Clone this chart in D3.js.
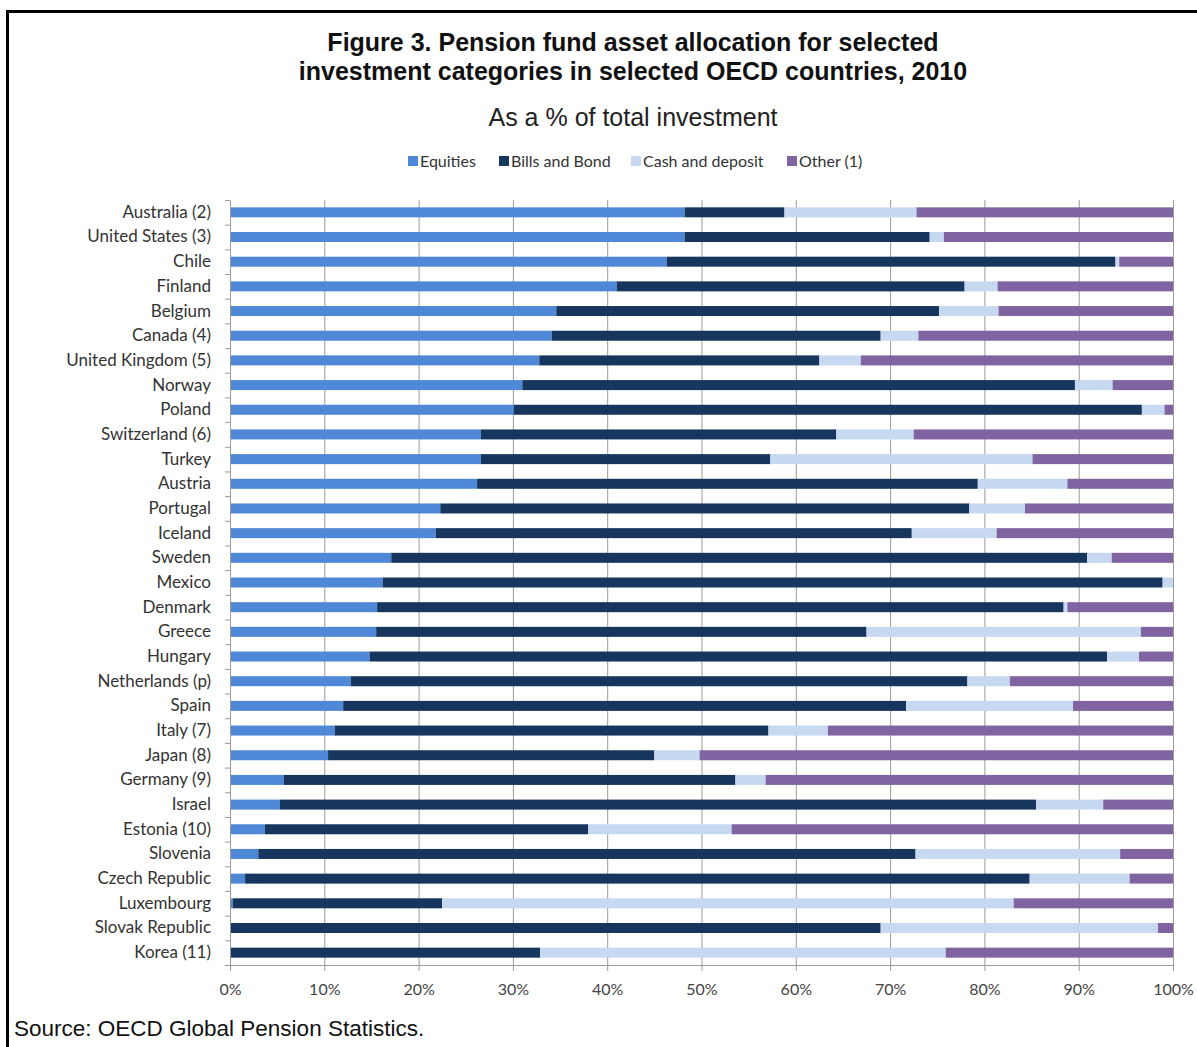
<!DOCTYPE html>
<html>
<head>
<meta charset="utf-8">
<script src="https://cdn.jsdelivr.net/npm/d3@7"></script>
<style>
  html, body { margin: 0; padding: 0; background: #fff; }
  svg { display: block; }
</style>
</head>
<body>
<svg id="chart" width="1197" height="1047"></svg>
<script>
const countries = ["Australia (2)", "United States (3)", "Chile", "Finland", "Belgium", "Canada (4)", "United Kingdom (5)", "Norway", "Poland", "Switzerland (6)", "Turkey", "Austria", "Portugal", "Iceland", "Sweden", "Mexico", "Denmark", "Greece", "Hungary", "Netherlands (p)", "Spain", "Italy (7)", "Japan (8)", "Germany (9)", "Israel", "Estonia (10)", "Slovenia", "Czech Republic", "Luxembourg", "Slovak Republic", "Korea (11)"];
const equities = [48.2, 48.2, 46.3, 41.0, 34.6, 34.1, 32.8, 31.0, 30.1, 26.6, 26.6, 26.2, 22.3, 21.8, 17.1, 16.2, 15.6, 15.5, 14.8, 12.8, 12.0, 11.1, 10.4, 5.7, 5.3, 3.7, 3.0, 1.6, 0.3, 0.0, 0.0];
const billsAndBond = [10.6, 26.0, 47.6, 36.9, 40.6, 34.9, 29.7, 58.6, 66.6, 37.7, 30.7, 53.1, 56.1, 50.5, 73.8, 82.7, 72.8, 52.0, 78.2, 65.4, 59.7, 46.0, 34.6, 47.9, 80.2, 34.3, 69.7, 83.2, 22.2, 69.0, 32.9];
const cashAndDeposit = [14.0, 1.5, 0.4, 3.5, 6.3, 4.0, 4.4, 4.0, 2.4, 8.2, 27.8, 9.5, 5.9, 9.0, 2.6, 1.1, 0.4, 29.1, 3.4, 4.5, 17.7, 6.3, 4.8, 3.2, 7.1, 15.2, 21.7, 10.6, 60.6, 29.4, 43.0];
const other = [27.2, 24.3, 5.7, 18.6, 18.5, 27.0, 33.1, 6.4, 0.9, 27.5, 14.9, 11.2, 15.7, 18.7, 6.5, 0.0, 11.2, 3.4, 3.6, 17.3, 10.6, 36.6, 50.2, 43.2, 7.4, 46.8, 5.6, 4.6, 16.9, 1.6, 24.1];
const seriesNames = ["Equities", "Bills and Bond", "Cash and deposit", "Other (1)"];
const xTicks = [0, 10, 20, 30, 40, 50, 60, 70, 80, 90, 100];

const titleLines = ["Figure 3. Pension fund asset allocation for selected", "investment categories in selected OECD countries, 2010"];
const subtitle = "As a % of total investment";
const source = "Source: OECD Global Pension Statistics.";

(function () {
const colors = ["#4f88d6", "#17365d", "#c6d9f1", "#8064a2"];
const seriesData = [equities, billsAndBond, cashAndDeposit, other];

const table = countries.map((c, i) => {
  const row = { country: c };
  seriesNames.forEach((s, k) => row[s] = seriesData[k][i]);
  return row;
});

const svg = d3.select("#chart");
svg.append("rect").attr("width", 1197).attr("height", 1047).attr("fill", "#fff");

// frame
svg.append("path").attr("d", "M7.5,1047 L7.5,11.5 L1197,11.5").attr("fill", "none").attr("stroke", "#000").attr("stroke-width", 3);

const pLeft = 230, pRight = 1173, pTop = 200, pBottom = 965;
const x = d3.scaleLinear().domain([0, 100]).range([pLeft, pRight]);
const y = d3.scaleBand().domain(countries).range([pTop, pBottom]).paddingInner(0).paddingOuter(0);
const barH = 10;

// title
const titleFont = "'Liberation Sans', Arial, sans-serif";
svg.append("g").selectAll("text").data(titleLines).join("text")
  .attr("x", 633).attr("y", (d, i) => 51 + i * 29)
  .attr("text-anchor", "middle").attr("font-family", titleFont)
  .attr("font-weight", "bold").attr("font-size", 25).attr("fill", "#111").text(d => d);
svg.append("text").attr("x", 633).attr("y", 126).attr("text-anchor", "middle")
  .attr("font-family", titleFont).attr("font-size", 25).attr("fill", "#222").text(subtitle);

// legend
const legendX = [408, 499, 631, 787];
const lg = svg.append("g");
seriesNames.forEach((s, k) => {
  lg.append("rect").attr("x", legendX[k]).attr("y", 156).attr("width", 10).attr("height", 10).attr("fill", colors[k]);
  lg.append("text").attr("x", legendX[k] + 12).attr("y", 166.5)
    .attr("font-family", "Lato, sans-serif").attr("font-size", 16).attr("fill", "#333").text(s);
});

// gridlines
svg.append("g").selectAll("line").data(xTicks.slice(1)).join("line")
  .attr("x1", d => x(d) + 0.5).attr("x2", d => x(d) + 0.5)
  .attr("y1", pTop).attr("y2", pBottom)
  .attr("stroke", "#9a9a9a").attr("stroke-width", 1);

// bars
const stack = d3.stack().keys(seriesNames)(table);
svg.append("g").selectAll("g").data(stack).join("g")
  .attr("fill", (d, k) => colors[k])
  .selectAll("rect").data(d => d).join("rect")
  .attr("x", d => x(d[0]))
  .attr("width", d => Math.max(0, x(d[1]) - x(d[0])))
  .attr("y", d => y(d.data.country) + y.bandwidth() / 2 - barH / 2)
  .attr("height", barH);

// x axis
const xAxis = d3.axisBottom(x).tickValues(xTicks).tickFormat(d => d + "%").tickSize(6).tickPadding(13);
const gx = svg.append("g").attr("transform", `translate(0,${pBottom})`).call(xAxis);
gx.select(".domain").attr("stroke", "#9a9a9a");
gx.selectAll(".tick line").attr("stroke", "#9a9a9a");
gx.selectAll("text").attr("font-family", "Lato, sans-serif").attr("font-size", 16).attr("fill", "#444");

// y axis
const yAxis = d3.axisLeft(y).tickSize(0).tickPadding(19);
const gy = svg.append("g").attr("transform", `translate(${pLeft},0)`).call(yAxis);
gy.select(".domain").attr("stroke", "#9a9a9a");
gy.selectAll("text").attr("font-family", "Lato, sans-serif").attr("font-size", 17).attr("fill", "#333");
// category boundary ticks
const bounds = countries.map(c => y(c)).concat([pBottom]);
svg.append("g").selectAll("line").data(bounds).join("line")
  .attr("x1", pLeft - 5).attr("x2", pLeft).attr("y1", d => d + 0.5).attr("y2", d => d + 0.5)
  .attr("stroke", "#9a9a9a");

// source
svg.append("text").attr("x", 14).attr("y", 1036).attr("font-family", titleFont)
  .attr("font-size", 22.5).attr("fill", "#111").text(source);
})();
</script>
</body>
</html>
